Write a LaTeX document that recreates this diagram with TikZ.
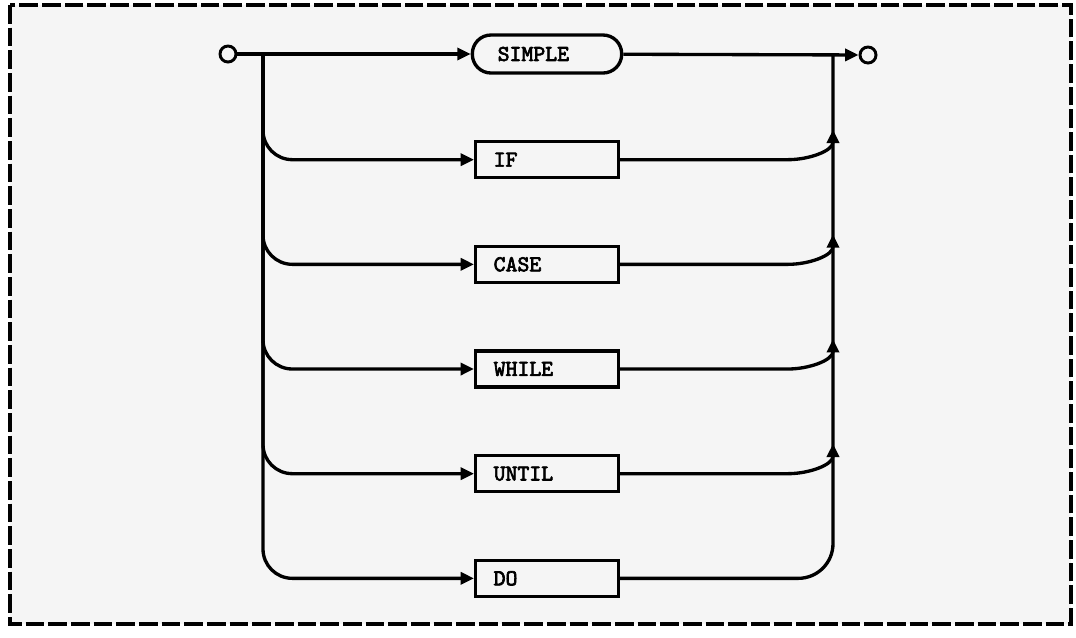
\documentclass[tikz,border=0pt]{standalone}
\usepackage{fontspec}
\usetikzlibrary{positioning, arrows.meta, calc}
\newfontfamily\boxfont{lmmono10-regular.otf}[FakeBold=3]

\begin{document}
\begin{tikzpicture}[
    x=0.75pt, y=-0.75pt,
    line width=2.5pt,
    node distance=49pt,
    box/.style={rectangle, draw, line width=2.5pt, minimum height=27pt, text width=80pt, inner xsep=13.5pt, inner ysep=0pt, align=left, font=\boxfont\fontsize{17}{19}\selectfont},
    pill/.style={box, rounded corners=14pt, minimum height=28.5pt, text width=74pt, inner xsep=19pt},
    term/.style={circle, draw, line width=2.2pt, minimum size=12pt, inner sep=0pt},
    arrow/.style={-{Triangle[length=10pt, width=9pt]}},
    branch/.style={arrow, rounded corners=22pt}
  ]
  \useasboundingbox (0,0) rectangle (1076,637);
  \draw[line width=2.4pt, dash pattern=on 14pt off 3pt, fill=black!4] (10,5) rectangle (1071,624);

  % statement kinds
  \node[pill] (simple) at (547,54) {SIMPLE};
  \node[box, below=of simple] (if) {IF};
  \node[box, below=of if] (case) {CASE};
  \node[box, below=of case] (while) {WHILE};
  \node[box, below=of while] (until) {UNTIL};
  \node[box, below=of until] (do) {DO};

  % entry and exit
  \node[term] (start) at (228,54) {};
  \node[term] (stop) at (868,55) {};
  \coordinate (lsplit) at (263,54);
  \coordinate (rjoin) at (833,55);

  \draw[arrow] (start) -- (simple);
  \draw[arrow] (simple) -- (stop);

  \foreach \n in {if, case, while, until, do}
    \draw[branch] (lsplit) |- (\n.west);
  \foreach \n in {if, case, while, until}
    \draw[arrow] (\n.east) -- ($(rjoin |- \n.east)+(-45,0)$)
      to[out=0, in=-90] ($(rjoin |- \n.east)+(0,-30)$);
  \draw[rounded corners=26pt] (do.east) -| (rjoin);
\end{tikzpicture}
\end{document}
